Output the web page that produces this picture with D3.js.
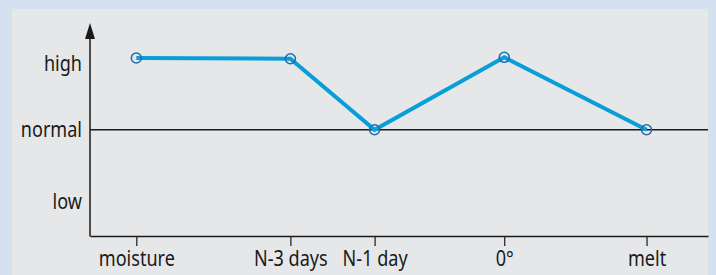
<!DOCTYPE html>
<html>
<head>
<meta charset="utf-8">
<script src="https://cdn.jsdelivr.net/npm/d3@7"></script>
<style>
  body { margin: 0; background: #d5e0f0; }
  svg { display: block; }
</style>
</head>
<body>
<svg id="chart" width="716" height="275"></svg>
<script>
// Chart data
var stages = ["moisture", "N-3 days", "N-1 day", "0°", "melt"];
var timeline = [0, 1.83, 2.83, 4.37, 6.06];   // relative position along the sequence
var levels = [2.04, 2.03, 1, 2.05, 1];         // 0 = low, 1 = normal, 2 = high
var levelLabels = ["low", "normal", "high"];
var levelTicks = [-0.05, 1, 1.95];

var width = 716, height = 275;
var svg = d3.select("#chart");

// Panel
svg.append("rect")
	.attr("x", 12).attr("y", 9)
	.attr("width", 696).attr("height", height - 9)
	.attr("fill", "#e6e7e9");

// Scales
var x = d3.scaleLinear()
	.domain([-0.55, 6.79])
	.range([90, 708]);
var y = d3.scaleLinear()
	.domain([-0.54, 2.33])
	.range([236, 38]);

// narrow humanist look: Noto Sans squeezed horizontally
var font = "'Noto Sans', sans-serif";
var squeeze = 0.86;

// X axis
var xAxis = svg.append("g")
	.attr("transform", "translate(0,236)")
	.call(d3.axisBottom(x)
		.tickValues(timeline)
		.tickFormat((d, i) => stages[i])
		.tickSize(10)
		.tickSizeOuter(0)
		.tickPadding(5.5));
xAxis.select(".domain").attr("stroke", "#1a1a1a").attr("stroke-width", 1.5);
xAxis.selectAll(".tick line").attr("stroke", "#1a1a1a").attr("stroke-width", 1.2);
xAxis.selectAll(".tick text")
	.attr("fill", "#1a1a1a")
	.attr("transform", "scale(" + squeeze + ",1)")
	.style("font-family", font)
	.style("font-size", "21px");

// Y axis (labels only, arrow line drawn separately)
var yAxis = svg.append("g")
	.attr("transform", "translate(90,0)")
	.call(d3.axisLeft(y)
		.tickValues(levelTicks)
		.tickFormat((d, i) => levelLabels[i])
		.tickSize(0)
		.tickPadding(8));
yAxis.select(".domain").remove();
yAxis.selectAll(".tick text")
	.attr("fill", "#1a1a1a")
	.attr("x", -8 / squeeze)
	.attr("transform", "scale(" + squeeze + ",1)")
	.style("font-family", font)
	.style("font-size", "21px");

svg.append("line")
	.attr("x1", 90).attr("x2", 90)
	.attr("y1", 236.5).attr("y2", 36)
	.attr("stroke", "#1a1a1a").attr("stroke-width", 1.5);
svg.append("path")
	.attr("d", "M90,23 L85,39 L95,39 Z")
	.attr("fill", "#1a1a1a");

// Normal reference line
svg.append("line")
	.attr("x1", 90).attr("x2", 708)
	.attr("y1", y(1)).attr("y2", y(1))
	.attr("stroke", "#1a1a1a").attr("stroke-width", 1.3);

// Series line
var pts = timeline.map((t, i) => ({ x: t, y: levels[i] }));
svg.append("path")
	.datum(pts)
	.attr("fill", "none")
	.attr("stroke", "#0a9ed9")
	.attr("stroke-width", 4)
	.attr("d", d3.line().x(d => x(d.x)).y(d => y(d.y)));

svg.selectAll(".pt")
	.data(pts)
	.enter()
	.append("circle")
	.attr("class", "pt")
	.attr("cx", d => x(d.x))
	.attr("cy", d => y(d.y))
	.attr("r", 5)
	.attr("fill", "none")
	.attr("stroke", "#1b6db4")
	.attr("stroke-width", 1.5);
</script>
</body>
</html>
